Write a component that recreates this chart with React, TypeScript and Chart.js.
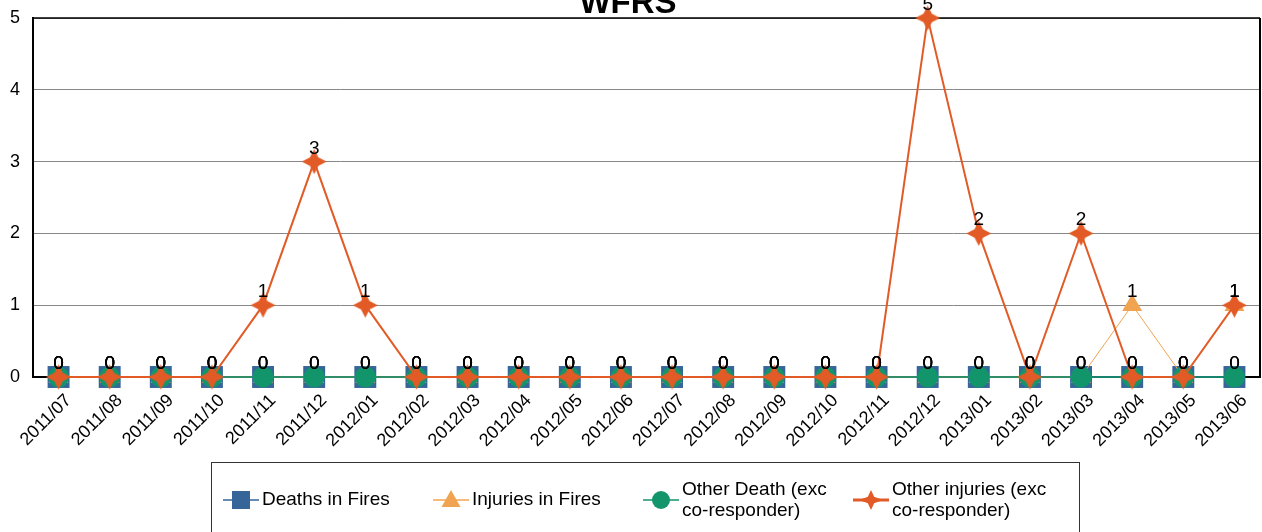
import React, { useEffect, useRef } from "react";
import { Chart, registerables } from "chart.js";

Chart.register(...registerables);

const categories = [
  "2011/07", "2011/08", "2011/09", "2011/10", "2011/11", "2011/12",
  "2012/01", "2012/02", "2012/03", "2012/04", "2012/05", "2012/06",
  "2012/07", "2012/08", "2012/09", "2012/10", "2012/11", "2012/12",
  "2013/01", "2013/02", "2013/03", "2013/04", "2013/05", "2013/06",
];
const deathsInFires = [0, 0, 0, 0, 0, 0, 0, 0, 0, 0, 0, 0, 0, 0, 0, 0, 0, 0, 0, 0, 0, 0, 0, 0];
const injuriesInFires = [0, 0, 0, 0, 0, 0, 0, 0, 0, 0, 0, 0, 0, 0, 0, 0, 0, 0, 0, 0, 0, 1, 0, 1];
const otherDeath = [0, 0, 0, 0, 0, 0, 0, 0, 0, 0, 0, 0, 0, 0, 0, 0, 0, 0, 0, 0, 0, 0, 0, 0];
const otherInjuries = [0, 0, 0, 0, 1, 3, 1, 0, 0, 0, 0, 0, 0, 0, 0, 0, 0, 5, 2, 0, 2, 0, 0, 1];
const yTicks = [0, 1, 2, 3, 4, 5];
const seriesNames = ["Deaths in Fires", "Injuries in Fires", "Other Death (exc co-responder)", "Other injuries (exc co-responder)"];
const legendLabels = [["Deaths in Fires"], ["Injuries in Fires"], ["Other Death (exc", "co-responder)"], ["Other injuries (exc", "co-responder)"]];

const BLUE = "#36659a";
const ORANGE = "#f0a452";
const GREEN = "#12956b";
const RED = "#e25b26";
const FONT = '"Liberation Sans", Arial, sans-serif';

function makeStar(rx: number, ry: number, inner: number, color: string) {
  const w = Math.ceil(rx * 2 + 2);
  const h = Math.ceil(ry * 2 + 2);
  const c = document.createElement("canvas");
  c.width = w;
  c.height = h;
  const ctx = c.getContext("2d")!;
  const cx = w / 2;
  const cy = h / 2;
  const d = inner * Math.SQRT1_2;
  ctx.beginPath();
  ctx.moveTo(cx, cy - ry);
  ctx.lineTo(cx + d, cy - d);
  ctx.lineTo(cx + rx, cy);
  ctx.lineTo(cx + d, cy + d);
  ctx.lineTo(cx, cy + ry);
  ctx.lineTo(cx - d, cy + d);
  ctx.lineTo(cx - rx, cy);
  ctx.lineTo(cx - d, cy - d);
  ctx.closePath();
  ctx.fillStyle = color;
  ctx.fill();
  return c;
}

export default function App() {
  const ref = useRef<HTMLCanvasElement | null>(null);

  useEffect(() => {
    if (!ref.current) return;
    const star = makeStar(12.5, 12.5, 6, RED);
    const legendStar = makeStar(12, 10, 4.5, RED);

    const labelPlugin = {
      id: "pointLabels",
      afterDatasetsDraw(chart: any) {
        const ctx = chart.ctx;
        ctx.save();
        ctx.font = `19px ${FONT}`;
        ctx.fillStyle = "#000";
        ctx.textAlign = "center";
        ctx.textBaseline = "alphabetic";
        chart.data.datasets.forEach((ds: any, di: number) => {
          const meta = chart.getDatasetMeta(di);
          meta.data.forEach((el: any, i: number) => {
            ctx.fillText(String(ds.data[i]), el.x, el.y - 8);
          });
        });
        ctx.restore();
      },
    };

    const framePlugin = {
      id: "frame",
      beforeDatasetsDraw(chart: any) {
        const { ctx, chartArea } = chart;
        ctx.save();
        ctx.strokeStyle = "#000";
        ctx.lineWidth = 1.5;
        ctx.beginPath();
        ctx.moveTo(chartArea.left, chartArea.top);
        ctx.lineTo(chartArea.right, chartArea.top);
        ctx.stroke();
        ctx.lineWidth = 2;
        ctx.beginPath();
        ctx.moveTo(chartArea.right, chartArea.top);
        ctx.lineTo(chartArea.right, chartArea.bottom + 1);
        ctx.stroke();
        ctx.restore();
      },
      afterDraw(chart: any) {
        const ctx = chart.ctx;
        ctx.save();
        ctx.font = `bold 33px ${FONT}`;
        ctx.fillStyle = "#000";
        ctx.textAlign = "center";
        ctx.textBaseline = "alphabetic";
        ctx.fillText("WFRS", 628, 13);
        ctx.strokeStyle = "#333";
        ctx.lineWidth = 1;
        ctx.strokeRect(211.5, 462.5, 868, 80);
        const entries = [
          { cx: 241, color: BLUE, lw: 1.5 },
          { cx: 451, color: ORANGE, lw: 1.5 },
          { cx: 661, color: GREEN, lw: 1.5 },
          { cx: 871, color: RED, lw: 3 },
        ];
        const y = 500;
        entries.forEach((e, i) => {
          ctx.strokeStyle = e.color;
          ctx.lineWidth = e.lw;
          ctx.beginPath();
          ctx.moveTo(e.cx - 18, y);
          ctx.lineTo(e.cx + 18, y);
          ctx.stroke();
          ctx.fillStyle = e.color;
          if (i === 0) {
            ctx.fillRect(e.cx - 9, y - 9, 18, 18);
          } else if (i === 1) {
            ctx.beginPath();
            ctx.moveTo(e.cx, y - 10);
            ctx.lineTo(e.cx + 9.5, y + 7);
            ctx.lineTo(e.cx - 9.5, y + 7);
            ctx.closePath();
            ctx.fill();
          } else if (i === 2) {
            ctx.beginPath();
            ctx.arc(e.cx, y, 9, 0, Math.PI * 2);
            ctx.fill();
          } else {
            ctx.drawImage(legendStar, e.cx - legendStar.width / 2, y - legendStar.height / 2);
          }
          ctx.fillStyle = "#000";
          ctx.font = `19px ${FONT}`;
          ctx.textAlign = "left";
          ctx.textBaseline = "middle";
          const lines = legendLabels[i];
          if (lines.length === 1) {
            ctx.fillText(lines[0], e.cx + 21, y);
          } else {
            ctx.fillText(lines[0], e.cx + 21, y - 10);
            ctx.fillText(lines[1], e.cx + 21, y + 11);
          }
        });
        ctx.restore();
      },
    };

    const chart = new Chart(ref.current, {
      type: "line",
      data: {
        labels: categories,
        datasets: [
          {
            label: seriesNames[0],
            data: deathsInFires,
            borderColor: BLUE,
            backgroundColor: BLUE,
            borderWidth: 1.5,
            pointStyle: "rect",
            pointRadius: 15.5,
            pointBorderWidth: 0,
            order: 4,
            clip: false as any,
          },
          {
            label: seriesNames[1],
            data: injuriesInFires,
            borderColor: ORANGE,
            backgroundColor: ORANGE,
            borderWidth: 1,
            pointStyle: "triangle",
            pointRadius: 11.5,
            pointBorderWidth: 0,
            order: 3,
            clip: false as any,
          },
          {
            label: seriesNames[2],
            data: otherDeath,
            borderColor: GREEN,
            backgroundColor: GREEN,
            borderWidth: 1.5,
            pointStyle: "circle",
            pointRadius: 10.5,
            pointBorderWidth: 0,
            order: 2,
            clip: false as any,
          },
          {
            label: seriesNames[3],
            data: otherInjuries,
            borderColor: RED,
            backgroundColor: RED,
            borderWidth: 2,
            pointStyle: star as any,
            pointRadius: 12,
            order: 1,
            clip: false as any,
          },
        ],
      },
      options: {
        responsive: false,
        animation: false,
        devicePixelRatio: 1,
        layout: { autoPadding: false, padding: { left: 0, top: 18, right: 2, bottom: 0 } },
        plugins: {
          legend: { display: false },
          tooltip: { enabled: false },
          title: { display: false },
        },
        scales: {
          x: {
            offset: true,
            grid: { display: false, drawTicks: false },
            border: { display: true, color: "#000", width: 2 },
            ticks: {
              autoSkip: false,
              minRotation: 45,
              maxRotation: 45,
              color: "#000",
              font: { family: FONT, size: 18 },
              padding: 13,
              labelOffset: 10,
            },
            afterFit(scale: any) {
              scale.height = 155;
              scale.paddingLeft = 0;
              scale.paddingRight = 0;
            },
          },
          y: {
            min: 0,
            max: 5,
            afterBuildTicks(scale: any) {
              scale.ticks = yTicks.map((v) => ({ value: v }));
            },
            grid: { color: "#888", lineWidth: 1, drawTicks: false },
            border: { display: true, color: "#000", width: 2 },
            ticks: {
              color: "#000",
              font: { family: FONT, size: 18 },
              padding: 13,
            },
            afterFit(scale: any) {
              scale.width = 33;
              scale.paddingTop = 0;
              scale.paddingBottom = 0;
            },
          },
        },
      },
      plugins: [labelPlugin, framePlugin],
    });
    return () => chart.destroy();
  }, []);

  return (
    <div style={{ position: "absolute", left: 0, top: 0, width: 1262, height: 532, background: "#fff" }}>
      <canvas ref={ref} width={1262} height={532} style={{ width: 1262, height: 532, display: "block" }} />
    </div>
  );
}
